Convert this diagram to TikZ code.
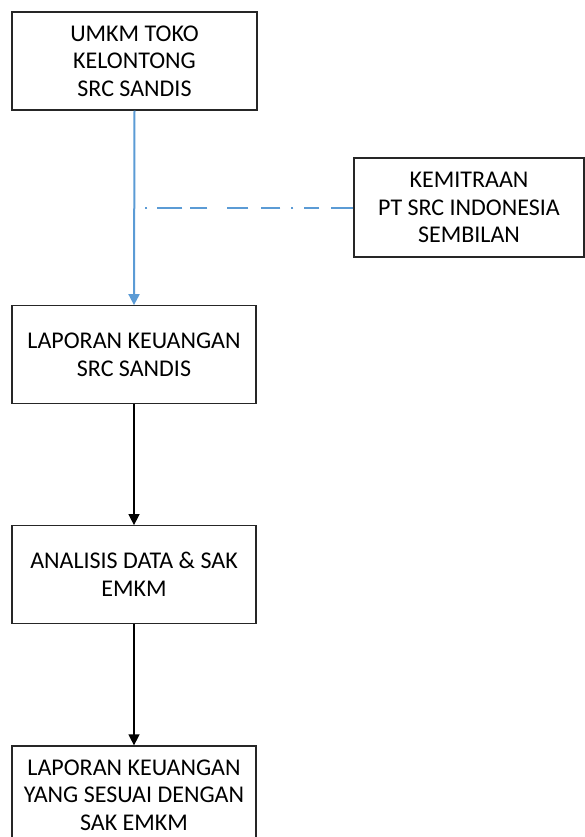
\documentclass[tikz,border=0pt]{standalone}
\usepackage{fontspec}
\setmainfont{Carlito}
\usetikzlibrary{arrows.meta}
\definecolor{lineblue}{HTML}{5B9BD5}
\tikzset{
  box/.style={draw=black!85, line width=1.3pt, fill=white, align=center,
    minimum width=244pt, minimum height=98pt, inner sep=0pt,
    font=\fontsize{24pt}{27.6pt}\selectfont},
  blk/.style={draw=black, line width=1.5pt, -{Triangle[length=11pt,width=11pt]}},
  blu/.style={draw=lineblue, line width=2pt, -{Triangle[length=11pt,width=11pt]}},
  bludash/.style={draw=lineblue, line width=2pt,
    dash pattern=on 22pt off 12pt on 15pt off 11pt on 2pt off 11pt on 19pt off 13pt on 21pt off 20pt on 17pt off 8pt on 25pt off 10pt on 3pt off 50pt}
}
\begin{document}
\begin{tikzpicture}[x=1pt,y=-1pt]
\useasboundingbox (0,0) rectangle (585,837);
\clip (0,0) rectangle (585,837);
\node[box, minimum width=245pt] (b1) at (134.5,61) {UMKM TOKO\\KELONTONG\\SRC SANDIS};
\node[box, minimum width=230pt, minimum height=99pt] (b2) at (469,207.5) {KEMITRAAN\\PT SRC INDONESIA\\SEMBILAN};
\node[box, minimum height=97.5pt] (b3) at (134,354.5) {LAPORAN KEUANGAN\\SRC SANDIS};
\node[box, minimum height=97.5pt] (b4) at (134,574.5) {ANALISIS DATA \& SAK\\EMKM};
\node[box] (b5) at (134,795) {LAPORAN KEUANGAN\\YANG SESUAI DENGAN\\SAK EMKM};
\coordinate (dashend) at (145,207.5);
\draw[blu] (b1.south) -- (b3.north);
\draw[bludash] (b2.west) -- (dashend);
\draw[blk] (b3.south) -- (b4.north);
\draw[blk] (b4.south) -- (b5.north);
\end{tikzpicture}
\end{document}
